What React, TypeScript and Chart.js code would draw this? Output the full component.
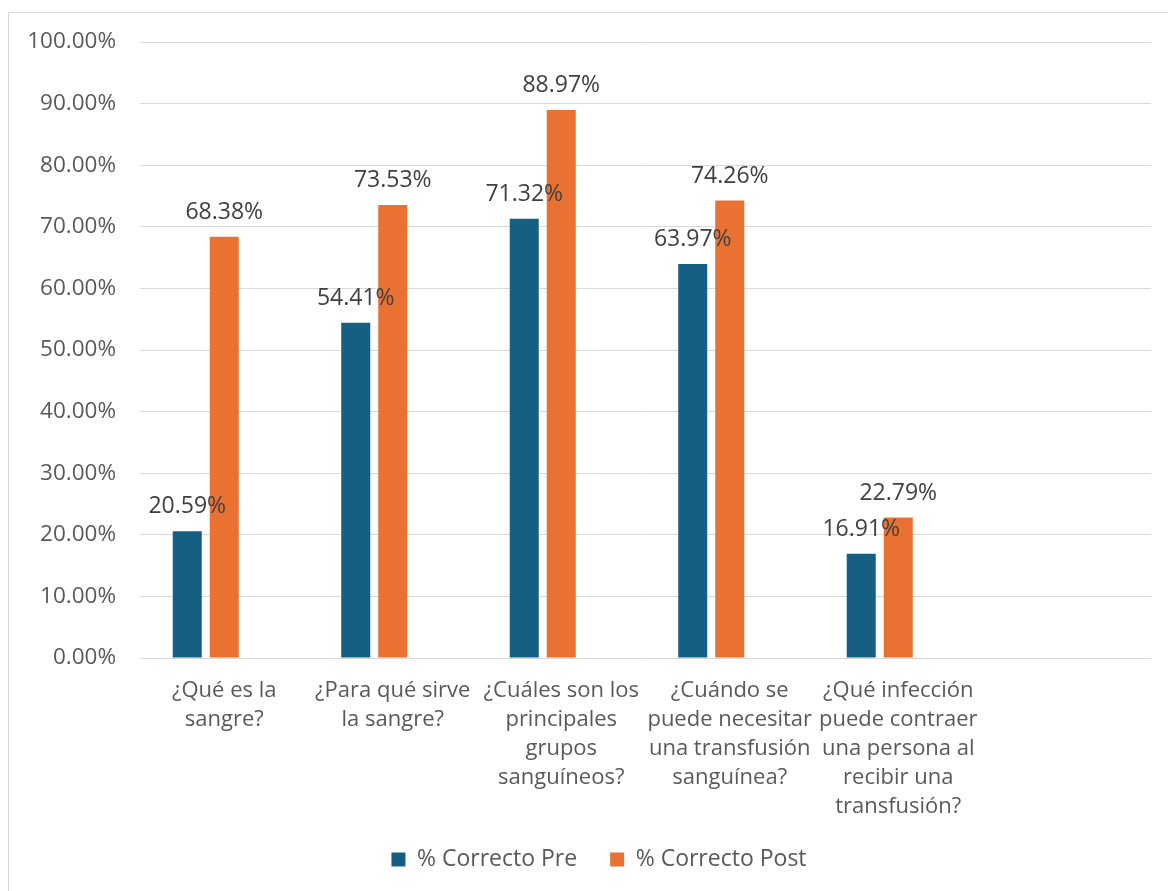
import React, { useEffect, useRef } from "react";
import { Chart, registerables } from "chart.js";

Chart.register(...registerables);

const categories: (string | string[])[] = [
  ["¿Qué es la", "sangre?"],
  ["¿Para qué sirve", "la sangre?"],
  ["¿Cuáles son los", "principales", "grupos", "sanguíneos?"],
  ["¿Cuándo se", "puede necesitar", "una transfusión", "sanguínea?"],
  ["¿Qué infección", "puede contraer", "una persona al", "recibir una", "transfusión?"],
  "",
];
const seriesNames = ["% Correcto Pre", "% Correcto Post"];
const preValues = [20.59, 54.41, 71.32, 63.97, 16.91, null];
const postValues = [68.38, 73.53, 88.97, 74.26, 22.79, null];
const emptyValues = [null, null, null, null, null, null];
const yTicks = [0, 10, 20, 30, 40, 50, 60, 70, 80, 90, 100];

const FONT = "'Open Sans', 'Noto Sans', sans-serif";
const BLUE = "#156082";
const ORANGE = "#E97132";

const labelPlugin = {
  id: "barLabels",
  afterLayout(chart: any) {
    if (chart.legend) {
      chart.legend.left += 19;
      chart.legend.right += 19;
    }
  },
  afterDatasetsDraw(chart: any) {
    const ctx = chart.ctx;
    ctx.save();
    ctx.font = `23px ${FONT}`;
    ctx.fillStyle = "#404040";
    ctx.textAlign = "center";
    ctx.textBaseline = "alphabetic";
    [0, 1].forEach((di) => {
      const meta = chart.getDatasetMeta(di);
      const data = chart.data.datasets[di].data;
      meta.data.forEach((bar: any, i: number) => {
        const v = data[i];
        if (v === null || v === undefined) return;
        ctx.fillText(`${Number(v).toFixed(2)}%`, bar.x, bar.y - 18);
      });
    });
    ctx.restore();
  },
};

export default function App() {
  const ref = useRef<HTMLCanvasElement>(null);
  useEffect(() => {
    if (!ref.current) return;
    const chart = new Chart(ref.current, {
      type: "bar",
      data: {
        labels: categories,
        datasets: [
          { label: seriesNames[0], data: preValues, backgroundColor: BLUE },
          { label: seriesNames[1], data: postValues, backgroundColor: ORANGE },
          { label: "", data: emptyValues, backgroundColor: "#A02B93" },
        ],
      },
      options: {
        animation: false,
        responsive: false,
        maintainAspectRatio: false,
        datasets: { bar: { categoryPercentage: 0.659, barPercentage: 0.784 } },
        layout: { padding: { top: 29, right: 17, bottom: 32, left: 0 } },
        plugins: {
          tooltip: { enabled: false },
          legend: {
            position: "bottom",
            labels: {
              filter: (item: any) => item.datasetIndex < 2,
              boxWidth: 14,
              boxHeight: 14,
              padding: 33,
              color: "#595959",
              font: { family: FONT, size: 23 },
            },
          },
        },
        scales: {
          x: {
            grid: { display: false },
            border: { display: false },
            ticks: {
              autoSkip: false,
              maxRotation: 0,
              minRotation: 0,
              padding: 10,
              color: "#595959",
              font: { family: FONT, size: 22, lineHeight: 1.318 },
            },
            afterFit: (s: any) => {
              s.height = 157;
            },
          },
          y: {
            min: 0,
            max: 100,
            afterBuildTicks: (s: any) => {
              s.ticks = yTicks.map((v) => ({ value: v }));
            },
            grid: { color: "#d9d9d9", lineWidth: 1, drawTicks: false },
            border: { display: false },
            ticks: {
              padding: 24,
              color: "#595959",
              font: { family: FONT, size: 22.5 },
              callback: (v: any) => `${Number(v).toFixed(2)}%`,
            },
            afterFit: (s: any) => {
              s.width = 131;
              s.paddingTop = 10;
              s.paddingBottom = 10;
            },
          },
        },
      },
      plugins: [labelPlugin],
    });
    return () => chart.destroy();
  }, []);
  return (
    <div
      style={{
        position: "fixed",
        left: 8,
        top: 12,
        width: 1160,
        height: 900,
        overflow: "hidden",
        borderLeft: "1px solid #d9d9d9",
        borderTop: "1px solid #d9d9d9",
        background: "#fff",
      }}
    >
      <canvas ref={ref} width={1159} height={900} style={{ display: "block" }} />
    </div>
  );
}
